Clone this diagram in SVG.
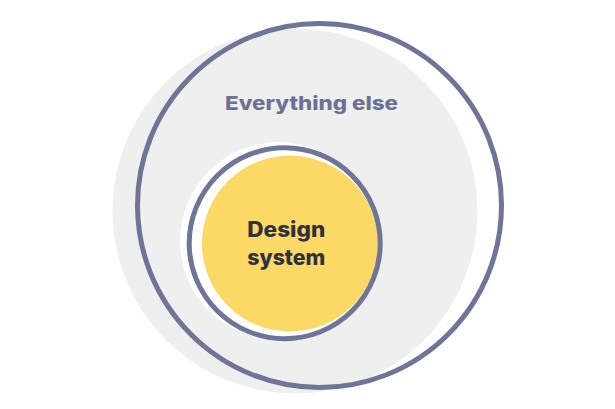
<svg xmlns="http://www.w3.org/2000/svg" width="615" height="409" viewBox="0 0 615 409">
<style>
.ring{fill:none;stroke:#6E7597;stroke-width:5}
.lbl{font-family:Inter,"Open Sans","Liberation Sans",sans-serif;font-weight:800;text-anchor:middle}
</style>
<rect width="615" height="409" fill="#ffffff"/>
<g id="everything-else">
<circle cx="295" cy="211" r="182.5" fill="#EFEFEF"/>
<circle class="ring" cx="319.5" cy="205.5" r="182"/>
<text class="lbl" x="311.5" y="110" font-size="19" fill="#6B7192" textLength="173" lengthAdjust="spacingAndGlyphs">Everything else</text>
</g>
<g id="design-system">
<circle cx="279" cy="241" r="99" fill="#ffffff"/>
<circle cx="290" cy="243.5" r="88" fill="#FCD865"/>
<circle class="ring" cx="284.7" cy="243.2" r="95.5"/>
<text class="lbl" x="286.3" y="237" font-size="21" fill="#2E3140" textLength="78" lengthAdjust="spacingAndGlyphs">Design</text>
<text class="lbl" x="286.3" y="265" font-size="21" fill="#2E3140" textLength="78" lengthAdjust="spacingAndGlyphs">system</text>
</g>
</svg>
